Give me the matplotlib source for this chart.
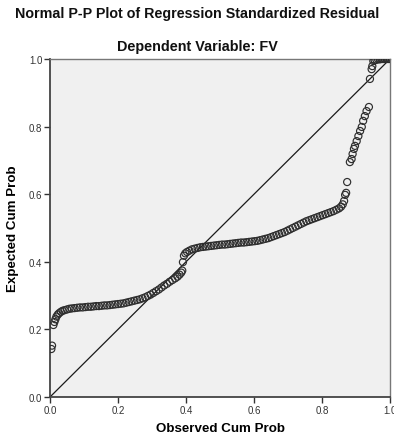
import matplotlib
matplotlib.use("Agg")
import matplotlib.pyplot as plt
from matplotlib.ticker import FormatStrFormatter, MultipleLocator

plt.rcParams["font.family"] = ["Liberation Sans", "DejaVu Sans"]

TITLE = "Normal P-P Plot of Regression Standardized Residual"
SUBTITLE = "Dependent Variable: FV"
X_LABEL = "Observed Cum Prob"
Y_LABEL = "Expected Cum Prob"

# observed cumulative probability (x)
observed = [
    0.004, 0.006, 0.010, 0.013, 0.016, 0.019, 0.023, 0.027, 0.032, 0.037,
    0.043, 0.050, 0.057, 0.064, 0.072, 0.080, 0.088, 0.096, 0.104, 0.112,
    0.120, 0.128, 0.136, 0.144, 0.152, 0.160, 0.168, 0.176, 0.184, 0.192,
    0.200, 0.208, 0.216, 0.224, 0.232, 0.240, 0.248, 0.256, 0.264, 0.272,
    0.280, 0.288, 0.296, 0.304, 0.312, 0.320, 0.328, 0.336, 0.344, 0.352,
    0.360, 0.368, 0.375, 0.381, 0.386, 0.389, 0.391, 0.394, 0.398, 0.403,
    0.410, 0.418, 0.426, 0.434, 0.442, 0.450, 0.458, 0.466, 0.474, 0.482,
    0.490, 0.498, 0.506, 0.514, 0.522, 0.530, 0.538, 0.546, 0.554, 0.562,
    0.570, 0.578, 0.586, 0.594, 0.602, 0.610, 0.618, 0.626, 0.634, 0.642,
    0.650, 0.658, 0.666, 0.674, 0.682, 0.690, 0.698, 0.706, 0.714, 0.722,
    0.730, 0.738, 0.746, 0.754, 0.762, 0.770, 0.778, 0.786, 0.794, 0.802,
    0.810, 0.818, 0.826, 0.834, 0.842, 0.850, 0.856, 0.861, 0.865, 0.868,
    0.871, 0.874, 0.882, 0.887, 0.890, 0.894, 0.897, 0.902, 0.907, 0.912,
    0.917, 0.921, 0.926, 0.931, 0.938, 0.941, 0.946, 0.948, 0.951, 0.955,
    0.960, 0.965, 0.970, 0.975, 0.980, 0.985, 0.990, 0.995, 1.000,
]

# expected cumulative probability (y)
expected = [
    0.142, 0.152, 0.213, 0.222, 0.230, 0.238, 0.244, 0.248, 0.252, 0.255,
    0.257, 0.259, 0.261, 0.262, 0.263, 0.264, 0.265, 0.265, 0.266, 0.267,
    0.267, 0.268, 0.269, 0.269, 0.270, 0.271, 0.271, 0.272, 0.273, 0.274,
    0.275, 0.276, 0.277, 0.279, 0.281, 0.283, 0.285, 0.287, 0.289, 0.292,
    0.295, 0.299, 0.303, 0.308, 0.313, 0.318, 0.324, 0.330, 0.335, 0.341,
    0.346, 0.351, 0.356, 0.362, 0.368, 0.374, 0.399, 0.418, 0.425, 0.429,
    0.433, 0.437, 0.439, 0.441, 0.443, 0.444, 0.445, 0.446, 0.447, 0.448,
    0.449, 0.450, 0.451, 0.451, 0.452, 0.453, 0.454, 0.455, 0.456, 0.457,
    0.457, 0.458, 0.459, 0.460, 0.461, 0.462, 0.464, 0.466, 0.468, 0.470,
    0.473, 0.476, 0.479, 0.482, 0.485, 0.488, 0.492, 0.496, 0.500, 0.504,
    0.508, 0.512, 0.516, 0.520, 0.523, 0.526, 0.529, 0.532, 0.535, 0.538,
    0.541, 0.544, 0.547, 0.550, 0.554, 0.558, 0.563, 0.570, 0.580, 0.598,
    0.604, 0.636, 0.695, 0.704, 0.719, 0.734, 0.743, 0.757, 0.772, 0.787,
    0.799, 0.817, 0.831, 0.846, 0.858, 0.941, 0.970, 0.979, 0.994, 0.996,
    0.998, 0.999, 0.999, 1.000, 1.000, 1.000, 1.000, 1.000, 1.000,
]

fig = plt.figure(figsize=(3.94, 4.39), dpi=100)
fig.patch.set_facecolor("white")
ax = fig.add_axes([50 / 394, 41 / 439, 340 / 394, 338 / 439])
ax.set_facecolor("#f0f0f0")

ax.plot([0, 1], [0, 1], color="#1a1a1a", linewidth=0.9, zorder=2)
ax.scatter(observed, expected, s=26, facecolors="none",
           edgecolors="#2e2e2e", linewidths=0.85, zorder=3)

ax.set_xlim(0, 1)
ax.set_ylim(0, 1)
ax.xaxis.set_major_locator(MultipleLocator(0.2))
ax.yaxis.set_major_locator(MultipleLocator(0.2))
ax.xaxis.set_major_formatter(FormatStrFormatter("%.1f"))
ax.yaxis.set_major_formatter(FormatStrFormatter("%.1f"))
ax.tick_params(direction="out", length=4, width=1, labelsize=7,
               colors="#333333", pad=1.5)

for side in ("left", "bottom"):
    ax.spines[side].set_color("#444444")
    ax.spines[side].set_linewidth(1.3)
for side in ("top", "right"):
    ax.spines[side].set_color("#777777")
    ax.spines[side].set_linewidth(1.0)

ax.set_xlabel(X_LABEL, fontsize=9.6, fontweight="bold", labelpad=5)
ax.set_ylabel(Y_LABEL, fontsize=9.6, fontweight="bold", labelpad=7)

fig.text(0.5, 1 - 14 / 439, TITLE, ha="center", va="center",
         fontsize=10.3, fontweight="bold", color="#111111")
fig.text(0.5, 1 - 47 / 439, SUBTITLE, ha="center", va="center",
         fontsize=10.4, fontweight="bold", color="#111111")

fig.savefig("out.png", dpi=100)
